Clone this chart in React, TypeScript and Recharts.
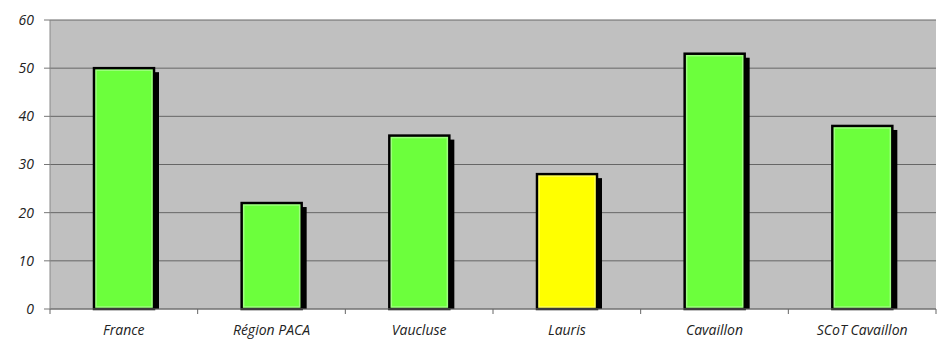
import { BarChart, Bar, XAxis, YAxis, CartesianGrid, Cell } from "recharts";

const places = ["France", "Région PACA", "Vaucluse", "Lauris", "Cavaillon", "SCoT Cavaillon"];
const values = [50, 22, 36, 28, 53, 38];
const barColors = ["#6cff3c", "#6cff3c", "#6cff3c", "#ffff00", "#6cff3c", "#6cff3c"];
const yTicks = [0, 10, 20, 30, 40, 50, 60];

const data = places.map((name, i) => ({ name, value: values[i] }));

const font = "'Open Sans', sans-serif";

function BevelBar(props: any) {
  const { x, y, width, height, fill } = props;
  if (height <= 0) return null;
  return (
    <g>
      <rect x={x + 5} y={y + 4} width={width} height={height - 4} fill="#000" />
      <rect x={x} y={y} width={width} height={height} fill={fill} stroke="#000" strokeWidth={2.5} />
      <rect x={x + 2} y={y + 2} width={width - 4} height={height - 4} fill="none" stroke="rgba(255,255,255,0.35)" strokeWidth={1.5} />
    </g>
  );
}

function PlaceTick(props: any) {
  const { x, y, payload, index, visibleTicksCount } = props;
  const half = payload?.offset ?? 0;
  const last = index === (visibleTicksCount ?? places.length) - 1;
  return (
    <g>
      <line x1={x - half} x2={x - half} y1={y} y2={y + 5} stroke="#666" />
      {last && <line x1={x + half} x2={x + half} y1={y} y2={y + 5} stroke="#666" />}
      <text x={x} y={y + 16} dy="0.71em" textAnchor="middle" fill="#222" fontSize={14} fontStyle="italic" fontFamily={font}>
        {payload.value}
      </text>
    </g>
  );
}

export default function App() {
  return (
    <div style={{ position: "absolute", left: 0, top: 0, width: 937, height: 340, background: "#fff" }}>
      <BarChart width={937} height={340} data={data} margin={{ top: 20, right: 1, bottom: 0, left: 0 }}>
        <CartesianGrid horizontal vertical={false} stroke="#666" fill="#c0c0c0" strokeWidth={1} />
        <XAxis
          dataKey="name"
          height={31}
          tickLine={false}
          tickSize={0}
          tickMargin={0}
          axisLine={{ stroke: "#777" }}
          interval={0}
          tick={<PlaceTick />}
        />
        <YAxis
          width={50}
          domain={[0, 60]}
          ticks={yTicks}
          tickSize={6}
          tickMargin={10}
          axisLine={{ stroke: "#888" }}
          tickLine={{ stroke: "#777" }}
          tick={{ fill: "#222", fontSize: 14, fontStyle: "italic", fontFamily: font }}
        />
        <Bar dataKey="value" barSize={60} shape={<BevelBar />} isAnimationActive={false}>
          {data.map((d, i) => (
            <Cell key={d.name} fill={barColors[i]} />
          ))}
        </Bar>
      </BarChart>
    </div>
  );
}
